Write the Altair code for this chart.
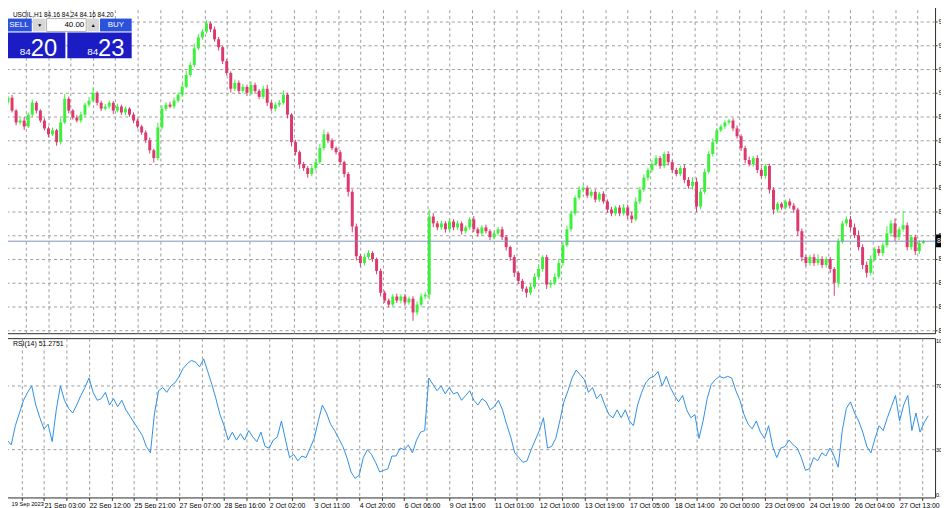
import altair as alt
import pandas as pd

# ---------------- data ----------------
SYMBOL_HEADER = "USOIL,H1  84.16 84.24 84.16 84.20"
RSI_HEADER = "RSI(14) 51.2751"
current_price = 84.20
bid_big, bid_small = "20", "84"
ask_big, ask_small = "23", "84"
lot_text = "40.00"

# each candle = 3 H1 bars; candle k sits at H1 bar index 3*k
bars_per_candle = 3
first_open = 90.05
closes = [
    90.24, 89.70, 89.20, 89.28, 89.03, 89.53, 90.03, 89.70, 89.28, 88.95,
    88.70, 88.87, 88.37, 89.20, 90.20, 89.70, 89.41, 89.28, 89.53, 89.95,
    90.12, 90.45, 90.03, 89.78, 89.87, 90.03, 89.70, 89.87, 89.62, 89.78,
    89.53, 89.28, 89.03, 88.78, 88.45, 88.03, 87.70, 88.99, 89.78, 89.95,
    89.87, 90.12, 90.37, 90.70, 91.20, 91.62, 92.32, 92.78, 93.03, 93.37,
    93.12, 92.70, 92.37, 91.78, 91.28, 90.62, 90.87, 90.53, 90.70, 90.45,
    90.78, 90.53, 90.28, 90.62, 90.03, 89.78, 89.95, 90.03, 90.37, 89.53,
    88.37, 87.95, 87.45, 87.28, 87.03, 87.28, 87.53, 88.12, 88.70, 88.45,
    88.12, 87.95, 87.53, 87.03, 86.28, 84.82, 83.57, 83.28, 83.53, 83.70,
    83.45, 82.95, 82.03, 81.70, 81.53, 81.87, 81.70, 81.87, 81.62, 81.78,
    81.20, 81.53, 81.87, 81.95, 85.24, 84.95, 84.78, 84.95, 84.70, 85.03,
    84.78, 84.95, 84.62, 84.78, 85.12, 84.70, 84.53, 84.78, 84.62, 84.37,
    84.53, 84.70, 84.37, 83.95, 83.53, 82.87, 82.53, 82.20, 82.03, 82.28,
    82.70, 83.03, 83.53, 82.37, 82.45, 82.70, 83.28, 84.03, 84.70, 85.37,
    86.03, 86.37, 86.45, 86.12, 86.28, 85.95, 86.20, 85.87, 85.53, 85.37,
    85.62, 85.37, 85.62, 85.28, 85.12, 85.87, 86.37, 86.87, 87.20, 87.45,
    87.70, 87.37, 87.87, 87.53, 87.20, 87.03, 87.28, 86.78, 86.53, 86.70,
    85.66, 86.28, 87.12, 87.87, 88.37, 88.87, 89.03, 89.20, 89.28, 88.95,
    88.62, 88.12, 87.62, 87.45, 87.70, 87.20, 86.95, 87.37, 86.37, 85.53,
    85.78, 85.62, 85.87, 85.70, 85.53, 84.62, 83.53, 83.28, 83.53, 83.28,
    83.45, 83.20, 83.45, 83.03, 82.45, 84.20, 84.95, 85.12, 84.78, 84.45,
    83.95, 83.20, 82.87, 83.45, 83.87, 83.70, 84.03, 84.53, 84.95, 84.37,
    84.70, 84.87, 83.95, 84.37, 83.78, 84.12, 84.20,
]
# upper / lower shadow of each candle, in cents
wick_up_cents = [
    8, 12, 6, 10, 15, 9, 14, 7, 5, 10,
    8, 12, 6, 18, 20, 9, 7, 10, 12, 8,
    15, 22, 6, 9, 11, 10, 7, 12, 8, 9,
    6, 10, 8, 7, 9, 12, 6, 20, 15, 10,
    12, 14, 9, 16, 18, 12, 20, 15, 10, 14,
    8, 12, 10, 6, 9, 7, 14, 10, 12, 9,
    15, 10, 8, 12, 16, 9, 10, 12, 18, 8,
    6, 10, 7, 9, 8, 12, 14, 18, 20, 10,
    8, 7, 9, 6, 8, 10, 12, 9, 14, 12,
    8, 6, 10, 9, 8, 10, 12, 9, 11, 8,
    10, 14, 12, 10, 30, 15, 10, 12, 9, 11,
    10, 12, 8, 9, 10, 14, 8, 9, 12, 8,
    7, 10, 12, 8, 6, 9, 7, 8, 10, 12,
    14, 20, 8, 10, 12, 15, 18, 14, 16, 12,
    10, 14, 12, 9, 10, 11, 8, 10, 9, 12,
    8, 10, 14, 12, 16, 18, 12, 14, 10, 16,
    12, 9, 10, 12, 8, 9, 10, 14, 12, 20,
    18, 16, 14, 12, 16, 10, 8, 9, 7, 10,
    12, 8, 10, 14, 9, 12, 10, 8, 9, 10,
    8, 6, 9, 12, 10, 8, 11, 9, 10, 14,
    20, 12, 10, 9, 8, 12, 10, 12, 14, 16,
    20, 12, 14, 16, 10, 14, 12, 30, 14, 20,
    10, 60, 12, 9, 10, 12, 6,
]
wick_down_cents = [
    10, 8, 12, 9, 14, 6, 10, 12, 8, 9,
    12, 7, 15, 10, 6, 12, 9, 8, 10, 7,
    9, 8, 12, 10, 7, 9, 14, 8, 10, 12,
    9, 11, 8, 10, 12, 14, 18, 10, 8, 9,
    7, 9, 8, 10, 6, 8, 9, 7, 10, 8,
    12, 10, 14, 12, 10, 16, 9, 12, 10, 14,
    9, 12, 10, 8, 14, 10, 12, 9, 8, 16,
    18, 14, 20, 12, 16, 10, 9, 8, 10, 12,
    9, 10, 12, 14, 20, 25, 18, 16, 10, 9,
    12, 14, 16, 10, 12, 9, 10, 12, 14, 10,
    35, 12, 9, 10, 20, 16, 12, 10, 14, 9,
    12, 10, 14, 9, 10, 12, 14, 10, 9, 12,
    10, 9, 12, 14, 16, 18, 14, 12, 20, 10,
    9, 8, 12, 18, 14, 10, 9, 12, 8, 10,
    9, 8, 12, 10, 9, 12, 10, 9, 14, 12,
    10, 12, 9, 14, 16, 8, 10, 9, 12, 10,
    9, 12, 10, 14, 12, 10, 9, 14, 12, 16,
    24, 12, 9, 8, 10, 9, 8, 10, 9, 12,
    10, 12, 14, 10, 12, 14, 10, 12, 16, 20,
    12, 10, 9, 12, 14, 20, 18, 14, 10, 12,
    10, 14, 12, 16, 55, 20, 10, 12, 14, 12,
    14, 18, 20, 12, 10, 12, 14, 10, 12, 16,
    12, 10, 14, 12, 16, 12, 4,
]
rsi14 = [
    42, 36, 33, 45, 53, 61, 66, 70, 58, 50,
    43, 46, 35, 55, 70, 61, 56, 53, 58, 64,
    69, 75, 66, 61, 62, 66, 58, 62, 57, 61,
    55, 51, 47, 43, 39, 32, 28, 53, 67, 69,
    66, 70, 72, 76, 81, 84, 86, 85, 82, 87,
    79, 71, 62, 52, 45, 36, 41, 36, 40, 36,
    42, 38, 35, 41, 32, 31, 36, 38, 48, 36,
    25, 27, 23, 26, 25, 31, 37, 48, 58, 53,
    46, 42, 37, 32, 25, 16, 12, 14, 25, 30,
    27, 22, 16, 17, 18, 26, 26, 31, 30, 33,
    28, 36, 41, 42, 75, 71, 67, 70, 65, 69,
    65, 66, 61, 64, 67, 61, 58, 62, 60, 55,
    57, 61, 55, 46, 38, 28, 25, 22, 23, 30,
    36, 42, 50, 31, 32, 37, 48, 60, 67, 75,
    80, 77, 74, 66, 69, 62, 65, 58, 52, 50,
    55, 50, 55, 48, 45, 58, 66, 72, 75, 76,
    79, 70, 76, 69, 64, 60, 64, 55, 50, 52,
    37, 48, 62, 71, 74, 76, 75, 76, 75, 67,
    61, 52, 46, 43, 48, 41, 37, 45, 32, 25,
    31, 32, 36, 33, 31, 25, 17, 18, 25, 23,
    28, 26, 31, 26, 19, 42, 56, 60, 53, 48,
    41, 32, 28, 37, 45, 42, 50, 57, 64, 48,
    58, 64, 42, 53, 41, 47, 51.2751,
]

first_x_label = "19 Sep 2023"
x_label_bars = [30, 63, 96, 129, 162, 195, 228, 261, 294, 327,
                360, 393, 426, 459, 492, 525, 558, 591, 624, 657]
x_labels = ["21 Sep 03:00", "22 Sep 12:00", "25 Sep 21:00",
            "27 Sep 07:00", "28 Sep 16:00", "2 Oct 02:00", "3 Oct 11:00",
            "4 Oct 20:00", "6 Oct 06:00", "9 Oct 15:00", "11 Oct 01:00",
            "12 Oct 10:00", "13 Oct 19:00", "17 Oct 05:00", "18 Oct 14:00",
            "20 Oct 00:00", "23 Oct 09:00", "24 Oct 19:00", "26 Oct 04:00",
            "27 Oct 13:00"]
price_ticks = [93.45, 92.45, 91.45, 90.45, 89.45, 88.45, 87.45,
               86.45, 85.45, 84.45, 83.45, 82.45, 81.45, 80.45]
rsi_ticks = [0, 30, 70, 100]
rsi_levels = [30, 70]

# ---------------- build table ----------------
rows = []
prev = first_open
for k, c in enumerate(closes):
    o = prev
    rows.append({
        "bar": k * bars_per_candle,
        "open": o,
        "close": c,
        "high": max(o, c) + wick_up_cents[k] / 100.0,
        "low": min(o, c) - wick_down_cents[k] / 100.0,
        "dir": "up" if c >= o else "down",
        "rsi": rsi14[k],
    })
    prev = c
df = pd.DataFrame(rows)
one = pd.DataFrame({"d": [0]})

# ---------------- styling ----------------
W, H_PRICE, H_RSI = 942, 333, 161
FONT = "Liberation Sans"
BULL, BEAR = "#3cf03c", "#dc3a6c"
GRID = "#9c9c9c"
RSI_COLOR = "#2f8fe4"

grid_bars = sorted(set(x_label_bars) | {b + 16.5 for b in x_label_bars} |
                   {x_label_bars[0] - 16.5})
label_expr = " : ".join(
    f"datum.value == {b} ? '{t}'" for b, t in zip(x_label_bars, x_labels)
) + " : ''"

xscale = alt.Scale(domain=[0, 683], nice=False, zero=False)
price_scale = alt.Scale(domain=[80.325, 94.2], nice=False, zero=False)
color_enc = alt.Color("dir:N", scale=alt.Scale(domain=["up", "down"], range=[BULL, BEAR]),
                      legend=None)

x_grid_axis = alt.Axis(values=grid_bars, tickCount=200, labels=False, ticks=False,
                       domain=False, grid=True, title=None)
x_label_axis = alt.Axis(values=grid_bars, tickCount=200, labelExpr=label_expr,
                        labelAlign="left", labelBaseline="top", labelFlush=False,
                        labelOverlap=False, labelPadding=1, tickSize=3, domain=False,
                        grid=True, title=None)
# the window edge only leaves the first character(s) of the right-hand labels visible
price_axis = alt.Axis(orient="right", values=price_ticks, tickCount=200, format=".2f",
                      labelExpr="substring(datum.label, 0, 1)", tickSize=2,
                      labelPadding=1, labelFlush=False, labelOverlap=False,
                      domain=False, grid=True, title=None)
rsi_axis = alt.Axis(orient="right", values=rsi_ticks, tickCount=200,
                    labelExpr="substring(datum.label, 0, 2)", tickSize=0,
                    labelPadding=0.5, labelFontSize=5.5, labelFlush=True,
                    labelOverlap=False, domain=False, grid=False, title=None)

# ---------------- price panel ----------------
base = alt.Chart(df).encode(x=alt.X("bar:Q", scale=xscale, axis=x_grid_axis))
wicks = base.mark_rule(strokeWidth=1).encode(
    y=alt.Y("low:Q", scale=price_scale, axis=price_axis), y2="high:Q", color=color_enc)
bodies = base.mark_bar(size=3).encode(y="open:Q", y2="close:Q", color=color_enc)

price_line = alt.Chart(one).mark_rule(color="#7d95b8", strokeWidth=1).encode(
    y=alt.datum(current_price))
price_box = alt.Chart(one).mark_rect(color="black").encode(
    x=alt.value(943), x2=alt.value(980),
    y=alt.datum(current_price + 0.28), y2=alt.datum(current_price - 0.26))
price_box_text = alt.Chart(one).mark_text(
    align="left", baseline="middle", color="white", font=FONT, fontSize=7).encode(
    x=alt.value(944), y=alt.datum(current_price),
    text=alt.value(f"{current_price:.2f}"[:1]))


def box(x1, x2, y1, y2, color, stroke=None):
    kw = {"color": color}
    if stroke:
        kw = {"fill": color, "stroke": stroke, "strokeWidth": 1}
    return alt.Chart(one).mark_rect(**kw).encode(
        x=alt.value(x1), x2=alt.value(x2), y=alt.value(y1), y2=alt.value(y2))


def label(x, y, text, size, color="black", align="left", baseline="middle", weight="normal"):
    return alt.Chart(one).mark_text(
        align=align, baseline=baseline, color=color, font=FONT, fontSize=size,
        fontWeight=weight).encode(x=alt.value(x), y=alt.value(y), text=alt.value(text))


TOP = 15  # top of the trade panel
widget = [
    label(10, 11.5, SYMBOL_HEADER, 6.5),
    box(0, 29, TOP, TOP + 13, "#2c52dc"),
    box(30, 43, TOP, TOP + 13, "#d6d6d6"),
    box(44, 84, TOP, TOP + 13, "#ffffff", stroke="#b0b0b0"),
    box(85, 97, TOP, TOP + 13, "#d6d6d6"),
    box(98, 130, TOP, TOP + 13, "#2c52dc"),
    box(0, 63, TOP + 14, TOP + 40, "#1c1cc4"),
    box(65, 130, TOP + 14, TOP + 40, "#1c1cc4"),
    label(16, TOP + 7, "SELL", 8, color="white", align="center"),
    label(37, TOP + 7, "▼", 5, align="center"),
    label(82, TOP + 7, lot_text, 8, align="right"),
    label(91, TOP + 7, "▲", 5, align="center"),
    label(114, TOP + 7, "BUY", 8, color="white", align="center"),
    label(17, TOP + 37, bid_small, 10, color="white", baseline="alphabetic"),
    label(28, TOP + 38, bid_big, 24, color="white", baseline="alphabetic"),
    label(85, TOP + 37, ask_small, 10, color="white", baseline="alphabetic"),
    label(96, TOP + 38, ask_big, 24, color="white", baseline="alphabetic"),
]

price_panel = alt.layer(wicks, bodies, price_line, price_box, price_box_text, *widget).properties(
    width=W, height=H_PRICE)

# ---------------- RSI panel ----------------
rsi_line = alt.Chart(df).mark_line(color=RSI_COLOR, strokeWidth=1).encode(
    x=alt.X("bar:Q", scale=xscale, axis=x_label_axis),
    y=alt.Y("rsi:Q", scale=alt.Scale(domain=[0, 100], nice=False), axis=rsi_axis))
rsi_grid = alt.Chart(pd.DataFrame({"lvl": rsi_levels})).mark_rule(
    color=GRID, strokeDash=[3, 3], strokeWidth=1).encode(y="lvl:Q")
rsi_title = label(10, 6, RSI_HEADER, 7)
first_date = label(8.5, H_RSI + 4, first_x_label, 5.8, baseline="top")
bounds_helper = alt.Chart(one).mark_rect(opacity=0).encode(
    x=alt.value(0), x2=alt.value(1), y=alt.value(0), y2=alt.value(190))

rsi_panel = alt.layer(rsi_grid, rsi_line, rsi_title, first_date, bounds_helper).properties(
    width=W, height=H_RSI)

chart = alt.vconcat(price_panel, rsi_panel, spacing=3).properties(
    padding={"left": -8, "top": -8, "right": -33, "bottom": -20},
    background="white",
).configure_view(
    stroke="#2a2a2a", strokeWidth=1
).configure_axis(
    labelFont=FONT, labelFontSize=7, labelColor="black",
    gridColor=GRID, gridDash=[3, 3], gridWidth=1, tickColor="#333333", tickWidth=1,
)

chart.save("out.html", embed_options={"renderer": "svg", "actions": False})
